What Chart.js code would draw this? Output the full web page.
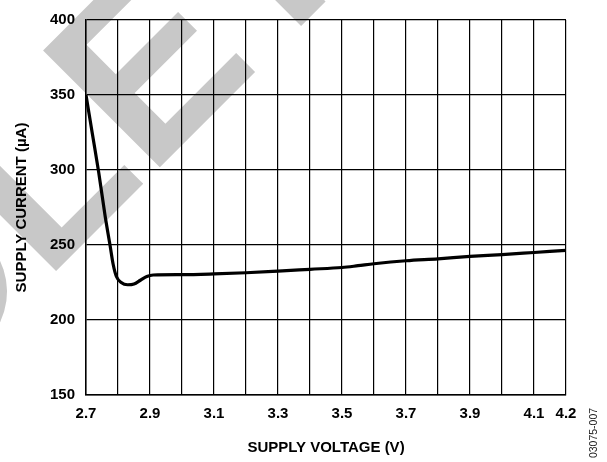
<!DOCTYPE html>
<html>
<head>
<meta charset="utf-8">
<script src="https://cdn.jsdelivr.net/npm/chart.js@4/dist/chart.umd.min.js"></script>
<style>
  html, body { margin: 0; padding: 0; background: #fff; }
  canvas { display: block; }
</style>
</head>
<body>
<canvas id="chart" width="607" height="462"></canvas>
<script>
// supply voltage (V) vs supply current (uA)
const voltage = [2.70, 2.72, 2.74, 2.76, 2.775, 2.785, 2.795, 2.81, 2.83, 2.85, 2.87, 2.89, 2.91,
                 3.0, 3.1, 3.2, 3.3, 3.4, 3.5, 3.55, 3.6, 3.7, 3.8, 3.9, 4.0, 4.1, 4.2];
const current = [350, 324, 298, 269, 250, 237, 229, 225, 223.5, 224, 226.5, 229, 230,
                 230.2, 230.7, 231.5, 232.6, 233.8, 235, 236.2, 237.5, 239.5, 240.8, 242.4, 243.6, 245, 246.4];

// vertical grid every 0.1 V, only some of them labelled
const xGrid = [2.7, 2.8, 2.9, 3.0, 3.1, 3.2, 3.3, 3.4, 3.5, 3.6, 3.7, 3.8, 3.9, 4.0, 4.1, 4.2];
const xTickLabels = ['2.7', '2.9', '3.1', '3.3', '3.5', '3.7', '3.9', '4.1', '4.2'];
const yTicks = [150, 200, 250, 300, 350, 400];

const FONT = "Arial, 'Liberation Sans', Helvetica, sans-serif";
Chart.defaults.font.family = FONT;
Chart.defaults.color = '#000';

// big grey "OBSOLETE" stamp behind the plot + figure number at the right edge
const decorations = {
    id: 'decorations',
    beforeDraw(chart) {
        const ctx = chart.ctx;
        ctx.save();
        ctx.translate(-455, 782);
        ctx.rotate(-Math.PI / 4);
        ctx.fillStyle = '#c8c8c8';
        ctx.font = 'bold 240px ' + FONT;
        ctx.textBaseline = 'alphabetic';
        ctx.textAlign = 'left';
        ctx.fillText('OBSOLETE', 0, 0);
        ctx.restore();
    },
    afterDraw(chart) {
        const ctx = chart.ctx;
        ctx.save();
        ctx.translate(594, 433);
        ctx.rotate(-Math.PI / 2);
        ctx.fillStyle = '#222';
        ctx.font = '10.5px ' + FONT;
        ctx.textAlign = 'center';
        ctx.textBaseline = 'middle';
        ctx.fillText('03075-007', 0, 0);
        ctx.restore();
    }
};

const ctx = document.getElementById('chart').getContext('2d');
new Chart(ctx, {
    type: 'line',
    data: {
        datasets: [{
            data: voltage.map((v, i) => ({ x: v, y: current[i] })),
            borderColor: '#000',
            borderWidth: 3.2,
            pointRadius: 0,
            fill: false,
            cubicInterpolationMode: 'monotone'
        }]
    },
    options: {
        responsive: false,
        animation: false,
        devicePixelRatio: 1,
        layout: { padding: { top: 13, right: 41, left: 0, bottom: 0 } },
        plugins: {
            legend: { display: false },
            tooltip: { enabled: false }
        },
        scales: {
            x: {
                type: 'linear',
                min: 2.7,
                max: 4.2,
                afterBuildTicks: function(scale) {
                    scale.ticks = xGrid.map(v => ({ value: v }));
                },
                afterFit: function(scale) { scale.height = 67; },
                grid: { color: '#000', lineWidth: 1.2, drawTicks: false },
                border: { color: '#000', width: 1.5 },
                ticks: {
                    padding: 10,
                    maxRotation: 0,
                    autoSkip: false,
                    font: { size: 15, weight: 'bold' },
                    callback: function(value) {
                        const s = Number(value).toFixed(1);
                        return xTickLabels.includes(s) ? s : '';
                    }
                },
                title: {
                    display: true,
                    text: 'SUPPLY VOLTAGE (V)',
                    font: { size: 15, weight: 'bold' },
                    padding: { top: 0, bottom: 5.5 }
                }
            },
            y: {
                min: 150,
                max: 400,
                afterBuildTicks: function(scale) {
                    scale.ticks = yTicks.map(v => ({ value: v }));
                },
                afterFit: function(scale) { scale.width = 86; },
                grid: { color: '#000', lineWidth: 1.2, drawTicks: false },
                border: { color: '#000', width: 1.5 },
                ticks: {
                    padding: 11,
                    font: { size: 15, weight: 'bold' }
                },
                title: {
                    display: true,
                    text: 'SUPPLY CURRENT (µA)',
                    font: { size: 15, weight: 'bold' },
                    padding: { top: 13, bottom: 0 }
                }
            }
        }
    },
    plugins: [decorations]
});
</script>
</body>
</html>
